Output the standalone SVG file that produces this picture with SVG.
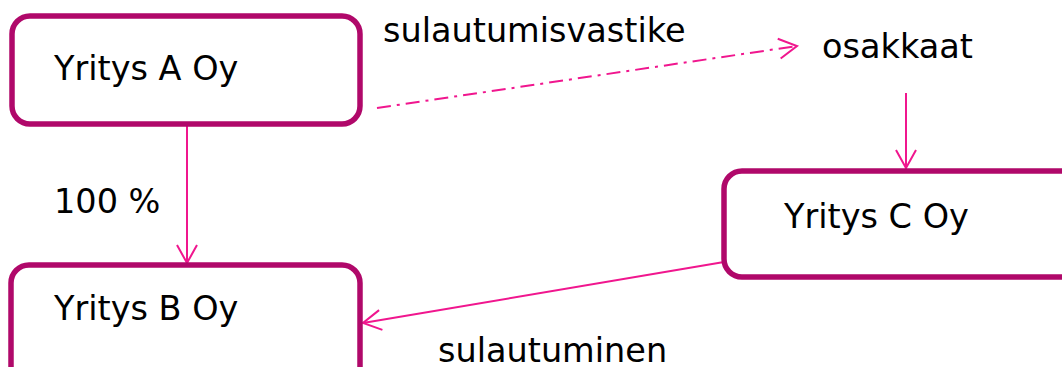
<svg xmlns="http://www.w3.org/2000/svg" width="1062" height="367" viewBox="0 0 1062 367">
<style>
.box{fill:#fff;stroke:#b0086a;stroke-width:5.5}
.t{font-family:"DejaVu Sans",Verdana,sans-serif;font-size:33.5px;fill:#000}
.c{fill:none;stroke:#f0168e;stroke-width:2}
</style>
<defs>
<marker id="ah" viewBox="0 0 24 24" refX="22" refY="12" markerWidth="24" markerHeight="24" markerUnits="userSpaceOnUse" orient="auto">
<path d="M4,2 L22,12 L4,22" fill="none" stroke="#f0168e" stroke-width="2"/>
</marker>
</defs>
<rect width="1062" height="367" fill="#fff"/>
<g id="connectors">
<line class="c" x1="187" y1="124" x2="187" y2="263" marker-end="url(#ah)"/>
<line class="c" x1="906" y1="93" x2="906" y2="168" marker-end="url(#ah)"/>
<line class="c" x1="377" y1="108" x2="797" y2="46" stroke-dasharray="14,6,3,6" marker-end="url(#ah)"/>
<line class="c" x1="724" y1="262" x2="363" y2="323" marker-end="url(#ah)"/>
</g>
<g id="nodeA"><rect class="box" x="12" y="16" width="348" height="108" rx="18"/><text class="t" x="54" y="80">Yritys A Oy</text></g>
<g id="nodeB"><rect class="box" x="11" y="265" width="349" height="130" rx="18"/><text class="t" x="54" y="320">Yritys B Oy</text></g>
<g id="nodeC"><rect class="box" x="724" y="171" width="360" height="106" rx="18"/><text class="t" x="784" y="228">Yritys C Oy</text></g>
<g id="labels">
<text class="t" x="383" y="42">sulautumisvastike</text>
<text class="t" x="822" y="58">osakkaat</text>
<text class="t" x="54" y="213">100 %</text>
<text class="t" x="438" y="362">sulautuminen</text>
</g>
</svg>
